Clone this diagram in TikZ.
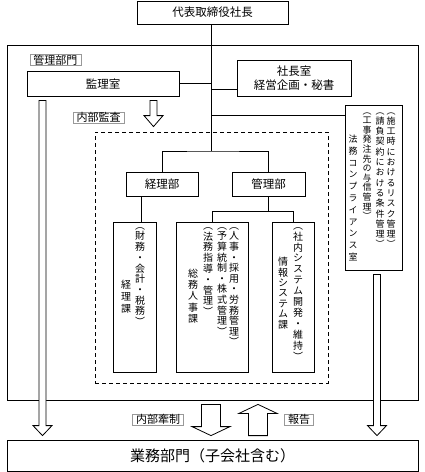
\documentclass[tikz,border=0pt]{standalone}
\usepackage{fontspec}
\setmainfont{Noto Sans CJK JP}
\newfontfamily\tatefont[RawFeature=+vert]{Noto Sans CJK JP}
\usetikzlibrary{positioning,calc}
% one column of vertical text, one character per line
\makeatletter
\newcommand\tate[2][10.7pt]{\vbox{\baselineskip=#1\lineskiplimit=-\maxdimen
  \@tfor\tate@c:=#2\do{\hbox to 1em{\hss\tate@c\hss}}}}
\makeatother

\begin{document}
\begin{tikzpicture}[%
    x=1pt, y=-1pt,              % work on the pixel grid of the sheet
    line width=0.8pt,
    font=\fontsize{11.5}{14}\selectfont,
    ]
% -------------------------------------------------
% Box and arrow styles
\tikzset{
box/.style={draw, inner sep=0pt, align=center},
tag/.style={draw=gray!80, line width=0.5pt, inner xsep=3.5pt, inner ysep=0pt,
  minimum height=11pt, font=\fontsize{11}{11}\selectfont},
tatecol/.style={inner sep=0pt, font={\tatefont\fontsize{10}{10}\selectfont}},
tatesmall/.style={tatecol, font={\tatefont\fontsize{9}{9}\selectfont}},
dashbox/.style={draw, dash pattern=on 4pt off 3pt},
% hollow block arrows, drawn as outlines from tail to tip
arrshaft/.store in=\arrshaft, arrhead/.store in=\arrhead, arrlen/.store in=\arrlen,
arrshaft=3.5pt, arrhead=9.5pt, arrlen=10pt,
hollow/.style={draw, fill=white, to path={
  let \p1=(\tikztostart), \p2=(\tikztotarget), \n1={sign(\y2-\y1)*\arrlen} in
  ({\x1-\arrshaft},{\y1}) -- ({\x1-\arrshaft},{\y2-(\n1)}) -- ({\x1-\arrhead},{\y2-(\n1)})
  -- ({\x1},{\y2}) -- ({\x1+\arrhead},{\y2-(\n1)}) -- ({\x1+\arrshaft},{\y2-(\n1)})
  -- ({\x1+\arrshaft},{\y1}) -- cycle}},
bighollow/.style={hollow, arrshaft=9.5pt, arrhead=19pt, arrlen=9pt},
}
\useasboundingbox (0,0) rectangle (425,472);
% -------------------------------------------------
% Management side
\node[box, minimum width=411pt, minimum height=355pt] (kanribumon) at (212.5,222.5) {};
\node[box, minimum width=151pt, minimum height=23pt] (ceo) at (212.5,12.5) {代表取締役社長};
\node[box, minimum width=152pt, minimum height=25pt] (kansa) at (103,83.5) {監理室};
\node[box, minimum width=114pt, minimum height=36pt] (shachou) at (294,78) {社長室\\経営企画・秘書};
\node[box, minimum width=57pt, minimum height=165pt] (houmu) at (373.5,187.5) {};
\node[tatesmall, anchor=north] (houmu1) at (391,112) {\tate[10.3pt]{（施工時におけるリスク管理）}};
\node[tatesmall, anchor=north] (houmu2) at (380,112) {\tate[10.3pt]{（請負契約における条件管理）}};
\node[tatesmall, anchor=north] (houmu3) at (367,112) {\tate[9.6pt]{（工事発注先の与信管理）}};
\node[tatesmall] (houmu4) at (353,198) {\tate[11.8pt]{法務コンプライアンス室}};

% Internal audit area
\node[dashbox, minimum width=233pt, minimum height=251pt] (naibu) at (211.5,257.5) {};
\node[box, minimum width=72pt, minimum height=24pt] (keiri) at (162,184) {経理部};
\node[box, minimum width=73pt, minimum height=24pt] (kanribu) at (268.5,184) {管理部};

\node[box, minimum width=43pt, minimum height=150pt] (zaimu) at (134.5,297) {};
\node[tatecol, anchor=north] (zaimu1) at (140,227) {\tate{（財務・会計・税務）}};
\node[tatecol] (zaimu2) at (126,297) {\tate[12pt]{経理課}};

\node[box, minimum width=72pt, minimum height=150pt] (soumu) at (212,297) {};
\node[tatecol, anchor=north] (soumu1) at (234,227) {\tate[10.6pt]{（人事・採用・労務管理）}};
\node[tatecol, anchor=north] (soumu2) at (222,227) {\tate[10.6pt]{（予算統制・株式管理）}};
\node[tatecol, anchor=north] (soumu3) at (208,227) {\tate[10.8pt]{（法務指導・管理）}};
\node[tatecol] (soumu4) at (193,296) {\tate[11.4pt]{総務人事課}};

\node[box, minimum width=42pt, minimum height=150pt] (jouhou) at (293,297) {};
\node[tatecol, anchor=north] (jouhou1) at (298,227) {\tate[10.9pt]{（社内システム開発・維持）}};
\node[tatecol] (jouhou2) at (283,293) {\tate[10.4pt]{情報システム課}};

% Business side
\node[box, minimum width=411pt, minimum height=31pt, font=\fontsize{15}{15}\selectfont] (gyomu) at (212.5,455.5) {業務部門（子会社含む）};

% -------------------------------------------------
% Connecting lines
\coordinate (fork) at (211,151);
\draw (ceo.south -| fork) -- (fork);
\draw (kansa.east) -- (kansa.east -| fork);
\coordinate (s1) at ([yshift=-11pt]shachou.west);
\draw (s1) -- (s1 -| fork);
\coordinate (h1) at ([yshift=-11pt]houmu.north west);
\draw (h1) -- (h1 -| fork);
\draw (keiri.north) |- (fork) -| (kanribu.north);
\coordinate (z1) at ([xshift=6.5pt]zaimu.north);
\draw (z1) -- (z1 |- keiri.south);
\draw (kanribu.south) -- ++(0,15) coordinate (fork2);
\draw (soumu.north) |- (fork2) -| (jouhou.north);

% Labels
\node[tag, above right=5pt and 3pt of kansa.north west] (kanriTag) {管理部門};
\node[tag] (kansaTag) at (98.5,117.5) {内部監査};
\node[tag] (kenseiTag) at (158,419.5) {内部牽制};
\node[tag] (houkokuTag) at (299,419.5) {報告};

% -------------------------------------------------
% Hollow arrows
\coordinate (k1) at ([shift={(-60.5pt,-4pt)}]kansa.south);
\coordinate (k2) at (k1 |- gyomu.north);
\draw[hollow] (k1) to ([yshift=4pt]k2);
\coordinate (a1) at ([shift={(50.5pt,-4pt)}]kansa.south);
\coordinate (a2) at (a1 |- naibu.north);
\draw[hollow, arrlen=11pt] (a1) to ([yshift=5pt]a2);
\coordinate (r1) at ([shift={(3.5pt,-4pt)}]houmu.south);
\coordinate (r2) at (r1 |- gyomu.north);
\draw[hollow] (r1) to ([yshift=4pt]r2);
\draw[bighollow] ([shift={(-1.5pt,-4pt)}]kanribumon.south) to ([shift={(-1.5pt,4pt)}]gyomu.north);
\draw[bighollow] ([shift={(45.5pt,4pt)}]gyomu.north) to ([shift={(45.5pt,-4pt)}]kanribumon.south);

\end{tikzpicture}
\end{document}
